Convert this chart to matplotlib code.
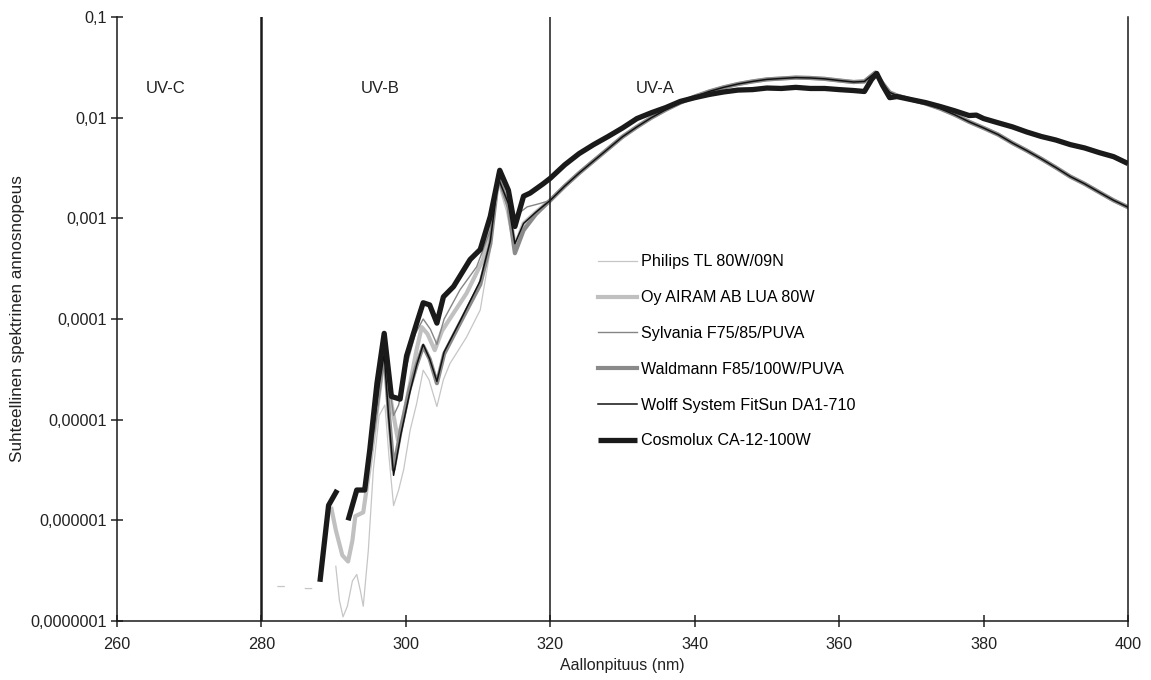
"""Relative spectral dose rate of UV lamps (log scale), UV-C / UV-B / UV-A bands."""

import numpy as np
import matplotlib
matplotlib.use("Agg")
import matplotlib.pyplot as plt
from matplotlib.ticker import FixedLocator, NullLocator

plt.rcParams["font.family"] = ["Liberation Sans", "DejaVu Sans"]

# --- data ------------------------------------------------------------------
# UV-B part of each lamp (nm, relative spectral dose rate)
philips_gap_wl = [282.2, 283.3, 286.2, 287.3]
philips_gap    = [2.2e-7, 2.2e-7, 2.1e-7, 2.1e-7]

philips_wl = [290.3, 290.8, 291.3, 291.9, 292.6, 293.2, 293.7, 294.1, 294.8, 295.5,
              296.3, 297.1, 297.7, 298.3, 299.0, 299.7, 300.6, 301.5, 302.4, 303.2,
              304.3, 305.2, 306.1, 308.4, 310.3, 311.7, 312.8, 313.9, 315.1, 316.3, 318.0]
philips    = [3.5e-7, 1.6e-7, 1.1e-7, 1.4e-7, 2.5e-7, 2.9e-7, 2.0e-7, 1.4e-7, 5.0e-7, 3.2e-6,
              1.1e-5, 1.4e-5, 4.0e-6, 1.4e-6, 2.0e-6, 3.2e-6, 7.9e-6, 1.45e-5, 3.1e-5, 2.5e-5,
              1.35e-5, 2.5e-5, 3.6e-5, 6.6e-5, 1.23e-4, 4.9e-4, 2.2e-3, 1.2e-3, 4.5e-4, 7.6e-4, 1.05e-3]

airam_wl = [289.7, 290.3, 291.2, 292.0, 292.6, 293.0, 294.1, 295.0, 296.2, 297.0,
            298.0, 298.9, 299.7, 300.6, 301.5, 302.2, 303.0, 304.0, 305.0, 305.7,
            308.4, 310.7, 312.1, 312.9, 314.2, 315.1, 316.3, 318.0]
airam    = [1.3e-6, 8.0e-7, 4.5e-7, 3.9e-7, 6.3e-7, 1.1e-6, 1.2e-6, 3.4e-6, 1.6e-5, 4.3e-5,
            1.45e-5, 6.3e-6, 1.1e-5, 2.3e-5, 5.0e-5, 8.3e-5, 7.1e-5, 4.9e-5, 7.6e-5, 9.1e-5,
            1.8e-4, 3.9e-4, 1.3e-3, 2.8e-3, 1.4e-3, 5.2e-4, 8.9e-4, 1.15e-3]

sylvania_wl = [295.3, 296.2, 297.0, 297.6, 298.3, 299.0, 300.0, 301.3, 302.4, 303.4,
               304.3, 305.3, 307.5, 309.8, 311.7, 312.8, 313.9, 315.1, 316.8, 318.5]
sylvania    = [5.0e-6, 2.0e-5, 5.6e-5, 2.5e-5, 1.1e-5, 1.4e-5, 3.2e-5, 7.1e-5, 1.0e-4, 7.9e-5,
               5.6e-5, 1.0e-4, 1.95e-4, 3.3e-4, 7.6e-4, 2.4e-3, 1.66e-3, 1.05e-3, 1.3e-3, 1.4e-3]

waldmann_wl = [295.5, 296.3, 297.0, 297.6, 298.3, 299.3, 300.5, 301.5, 302.4, 303.3,
               304.3, 305.3, 307.5, 310.3, 311.7, 312.8, 314.2, 315.1, 316.3, 318.0]
waldmann    = [7.9e-6, 2.0e-5, 5.0e-5, 1.26e-5, 3.2e-6, 7.9e-6, 2.0e-5, 3.5e-5, 5.4e-5, 4.0e-5,
               2.3e-5, 4.5e-5, 9.1e-5, 2.2e-4, 5.6e-4, 2.6e-3, 1.3e-3, 4.5e-4, 7.6e-4, 1.1e-3]

wolff_wl = [295.5, 296.3, 297.0, 297.6, 298.3, 299.3, 300.5, 301.5, 302.4, 303.3,
            304.3, 305.3, 307.5, 310.3, 311.7, 312.8, 314.2, 315.1, 316.3, 318.0]
wolff    = [7.9e-6, 2.2e-5, 4.5e-5, 1.1e-5, 2.8e-6, 7.1e-6, 1.8e-5, 3.5e-5, 5.6e-5, 4.0e-5,
            2.4e-5, 4.7e-5, 9.5e-5, 2.4e-4, 6.0e-4, 2.5e-3, 1.4e-3, 5.6e-4, 8.9e-4, 1.15e-3]

# UV-A part shared by the five grey lamps (they lie on top of each other)
uva_wl   = [320, 322, 324, 326, 328, 330, 332, 334, 336, 338, 340, 342, 344, 346, 348,
            350, 352, 354, 356, 358, 360, 362, 363.5, 365, 366, 367, 368, 370, 372, 374,
            376, 378, 380, 382, 384, 386, 388, 390, 392, 394, 396, 398, 400]
uva_gray = [1.51e-3, 2.09e-3, 2.82e-3, 3.72e-3, 4.9e-3, 6.46e-3, 8.1e-3, 1.0e-2, 1.2e-2,
            1.41e-2, 1.62e-2, 1.82e-2, 2.0e-2, 2.16e-2, 2.29e-2, 2.4e-2, 2.45e-2, 2.5e-2,
            2.48e-2, 2.43e-2, 2.34e-2, 2.26e-2, 2.29e-2, 2.8e-2, 2.2e-2, 1.78e-2, 1.66e-2,
            1.51e-2, 1.38e-2, 1.23e-2, 1.07e-2, 9.1e-3, 7.9e-3, 6.8e-3, 5.6e-3, 4.7e-3,
            3.9e-3, 3.2e-3, 2.6e-3, 2.2e-3, 1.82e-3, 1.51e-3, 1.29e-3]

# Cosmolux: short first piece, gap, then the full curve
cosmo_a_wl = [288.1, 289.3, 290.5]
cosmo_a    = [2.45e-7, 1.41e-6, 2.0e-6]
cosmo_wl = [292.0, 293.2, 294.3, 295.0, 296.0, 297.0, 298.0, 299.2, 300.1, 301.5,
            302.4, 303.3, 304.3, 305.2, 306.6, 308.9, 310.3, 311.7, 313.0, 314.2,
            315.1, 316.3, 317.2, 319.0, 320, 322, 324, 326, 328, 330, 332, 334, 336,
            338, 340, 342, 344, 346, 348, 350, 352, 354, 356, 358, 360, 362, 363.5,
            364.5, 365.2, 366, 367, 368, 370, 372, 374, 376, 378, 379, 380, 382, 384,
            386, 388, 390, 392, 394, 396, 398, 400]
cosmo    = [1.0e-6, 2.0e-6, 2.0e-6, 5.0e-6, 2.3e-5, 7.2e-5, 1.7e-5, 1.6e-5, 4.3e-5, 9.1e-5,
            1.45e-4, 1.38e-4, 9.1e-5, 1.66e-4, 2.1e-4, 3.9e-4, 4.9e-4, 1.05e-3, 3.0e-3, 1.9e-3,
            8.3e-4, 1.66e-3, 1.78e-3, 2.2e-3, 2.5e-3, 3.4e-3, 4.4e-3, 5.4e-3, 6.5e-3, 7.9e-3,
            9.8e-3, 1.12e-2, 1.26e-2, 1.45e-2, 1.58e-2, 1.70e-2, 1.80e-2, 1.88e-2, 1.9e-2,
            1.97e-2, 1.95e-2, 2.0e-2, 1.95e-2, 1.95e-2, 1.9e-2, 1.86e-2, 1.82e-2, 2.4e-2,
            2.75e-2, 2.1e-2, 1.58e-2, 1.62e-2, 1.51e-2, 1.41e-2, 1.29e-2, 1.17e-2, 1.05e-2,
            1.06e-2, 9.8e-3, 8.9e-3, 8.1e-3, 7.2e-3, 6.5e-3, 6.0e-3, 5.4e-3, 5.0e-3, 4.5e-3,
            4.1e-3, 3.5e-3]

y_ticks = [1e-7, 1e-6, 1e-5, 1e-4, 1e-3, 1e-2, 1e-1]
y_tick_labels = ["0,0000001", "0,000001", "0,00001", "0,0001", "0,001", "0,01", "0,1"]
x_ticks = [260, 280, 300, 320, 340, 360, 380, 400]
band_edges = [280, 320]
bands = [("UV-C", 266.8), ("UV-B", 296.5), ("UV-A", 334.5)]

LAMPS = [
    ("Philips TL 80W/09N",          philips_wl,  philips,  "#c6c6c6", 0.9),
    ("Oy AIRAM AB LUA 80W",         airam_wl,    airam,    "#c0c0c0", 3.0),
    ("Sylvania F75/85/PUVA",        sylvania_wl, sylvania, "#858585", 1.0),
    ("Waldmann F85/100W/PUVA",      waldmann_wl, waldmann, "#8a8a8a", 3.0),
    ("Wolff System FitSun DA1-710", wolff_wl,    wolff,    "#111111", 1.1),
]
TXT = "#222222"


def main():
    fig = plt.figure(figsize=(11.51, 6.80), dpi=100)
    ax = fig.add_axes([117 / 1151, 1 - 621 / 680, 1011 / 1151, 604 / 680])

    # dashed stub of the Philips curve in the far UV-B
    ax.plot(philips_gap_wl, philips_gap, color="#c6c6c6", lw=0.9,
            linestyle=(0, (6, 16)))

    for name, wl, val, col, lw in LAMPS:
        ax.plot(list(wl) + uva_wl, list(val) + uva_gray, color=col, lw=lw,
                solid_joinstyle="round", label=name)

    ax.plot(cosmo_a_wl, cosmo_a, color="#1a1a1a", lw=3.8, solid_capstyle="butt")
    ax.plot(cosmo_wl, cosmo, color="#1a1a1a", lw=3.8, solid_joinstyle="round",
            solid_capstyle="butt", label="Cosmolux CA-12-100W")

    ax.axvline(band_edges[0], color="#1a1a1a", lw=1.8)
    ax.axvline(band_edges[1], color="#1a1a1a", lw=1.1)
    for txt, x in bands:
        ax.text(x, 0.0197, txt, fontsize=12, ha="center", va="center", color=TXT)

    ax.set_yscale("log")
    ax.set_xlim(260, 400)
    ax.set_ylim(1e-7, 1e-1)
    ax.yaxis.set_major_locator(FixedLocator(y_ticks))
    ax.yaxis.set_minor_locator(NullLocator())
    ax.set_yticklabels(y_tick_labels)
    ax.set_xticks(x_ticks)
    ax.tick_params(direction="inout", length=9, width=1.1, labelsize=11.7, colors=TXT)
    ax.tick_params(axis="x", pad=7)
    ax.tick_params(axis="y", pad=3)

    for s in ("left", "bottom", "right"):
        ax.spines[s].set_linewidth(1.1)
        ax.spines[s].set_color("#1a1a1a")
    ax.spines["top"].set_visible(False)

    ax.set_xlabel("Aallonpituus (nm)", fontsize=11.5, color=TXT, labelpad=4)
    ax.set_ylabel("Suhteellinen spektrinen annosnopeus", fontsize=12.3,
                  color=TXT, labelpad=4)

    ax.legend(loc="upper left", bbox_to_anchor=(0.476, 0.607), frameon=False,
              fontsize=11.6, handlelength=2.4, handletextpad=0.25, labelspacing=1.29,
              borderpad=0, borderaxespad=0)

    fig.savefig("out.png", dpi=100)


if __name__ == "__main__":
    main()
